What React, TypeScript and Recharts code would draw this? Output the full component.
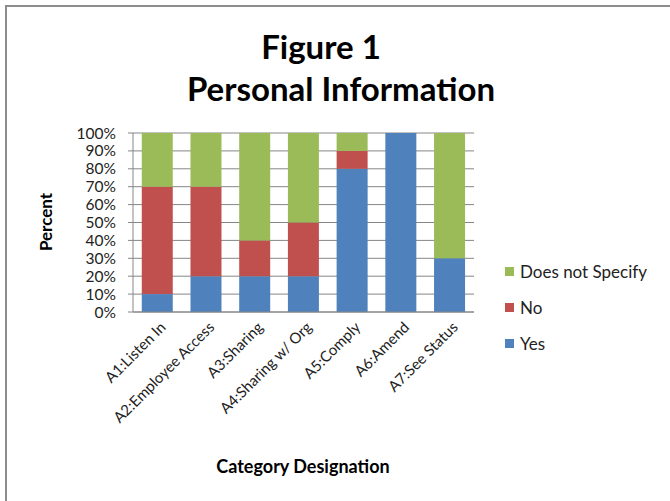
import React from 'react';
import { BarChart, Bar, XAxis, YAxis, CartesianGrid, Legend } from 'recharts';

const categories = [
  'A1:Listen In',
  'A2:Employee Access',
  'A3:Sharing',
  'A4:Sharing w/ Org',
  'A5:Comply',
  'A6:Amend',
  'A7:See Status',
];
const yesValues = [10, 20, 20, 20, 80, 100, 30];
const noValues = [60, 50, 20, 30, 10, 0, 0];
const notSpecifiedValues = [30, 30, 60, 50, 10, 0, 70];
const yTicks = [0, 10, 20, 30, 40, 50, 60, 70, 80, 90, 100];
const legendOrder = ['Does not Specify', 'No', 'Yes'];

const data = categories.map((name, i) => ({
  name,
  yes: yesValues[i],
  no: noValues[i],
  dns: notSpecifiedValues[i],
}));

const FONT = 'Lato, "Open Sans", sans-serif';

const XTick = (props: any) => {
  const { x, y, payload } = props;
  return (
    <g transform={`translate(${x + 5},${y + 4})`}>
      <text
        transform="rotate(-45)"
        textAnchor="end"
        dy={6}
        fontSize={15}
        fontFamily={FONT}
        fill="#222"
      >
        {payload.value}
      </text>
    </g>
  );
};

const LegendBox = (props: any) => {
  const items = [...(props.payload || [])].sort(
    (a: any, b: any) => legendOrder.indexOf(a.value) - legendOrder.indexOf(b.value)
  );
  return (
    <div style={{ fontFamily: FONT, fontSize: 17, color: '#222' }}>
      {items.map((it: any) => (
        <div
          key={it.value}
          style={{ display: 'flex', alignItems: 'center', height: 36 }}
        >
          <span
            style={{
              width: 9,
              height: 9,
              background: it.color,
              display: 'inline-block',
              marginRight: 6,
            }}
          />
          {it.value}
        </div>
      ))}
    </div>
  );
};

const App: React.FC = () => {
  return (
    <div
      style={{
        position: 'absolute',
        left: 0,
        top: 0,
        width: 670,
        height: 501,
        background: '#fff',
        overflow: 'hidden',
      }}
    >
      <div
        style={{
          position: 'absolute',
          left: 5,
          top: 5,
          width: 700,
          height: 600,
          borderLeft: '2px solid #8c8c8c',
          borderTop: '2px solid #8c8c8c',
        }}
      />
      <div
        style={{
          position: 'absolute',
          left: 0,
          width: 670,
          top: 25,
          textAlign: 'center',
          fontFamily: FONT,
          fontWeight: 'bold',
          fontSize: 33,
          lineHeight: '42px',
          color: '#000',
          paddingLeft: 12,
          boxSizing: 'border-box',
        }}
      >
        <div style={{ marginLeft: -40 }}>Figure 1</div>
        <div>Personal Information</div>
      </div>
      <div
        style={{
          position: 'absolute',
          left: 45,
          top: 222,
          transform: 'translate(-50%, -50%) rotate(-90deg)',
          fontFamily: FONT,
          fontWeight: 'bold',
          fontSize: 17,
          color: '#000',
          whiteSpace: 'nowrap',
        }}
      >
        Percent
      </div>
      <div
        style={{
          position: 'absolute',
          left: 303,
          top: 466,
          transform: 'translate(-50%, -50%)',
          fontFamily: FONT,
          fontWeight: 'bold',
          fontSize: 18,
          color: '#000',
          whiteSpace: 'nowrap',
        }}
      >
        Category Designation
      </div>
      <BarChart
        width={670}
        height={501}
        data={data}
        margin={{ top: 133, right: 196, bottom: 89, left: 73 }}
        barCategoryGap="18%"
      >
        <CartesianGrid vertical={false} stroke="#868686" />
        <XAxis
          dataKey="name"
          interval={0}
          height={100}
          tickLine={false}
          stroke="#868686"
          tick={<XTick />}
        />
        <YAxis
          width={60}
          domain={[0, 100]}
          ticks={yTicks}
          interval={0}
          tickFormatter={(v: number) => `${v}%`}
          stroke="#868686"
          tickSize={5}
          tickMargin={12}
          tick={{ fontSize: 15.5, fontFamily: FONT, fill: '#222' }}
        />
        <Legend
          layout="vertical"
          align="center"
          verticalAlign="middle"
          wrapperStyle={{ left: 505, top: 253, width: 170 }}
          content={<LegendBox />}
        />
        <Bar dataKey="yes" name="Yes" stackId="a" fill="#4F81BD" isAnimationActive={false} />
        <Bar dataKey="no" name="No" stackId="a" fill="#C0504D" isAnimationActive={false} />
        <Bar dataKey="dns" name="Does not Specify" stackId="a" fill="#9BBB59" isAnimationActive={false} />
      </BarChart>
    </div>
  );
};

export default App;
